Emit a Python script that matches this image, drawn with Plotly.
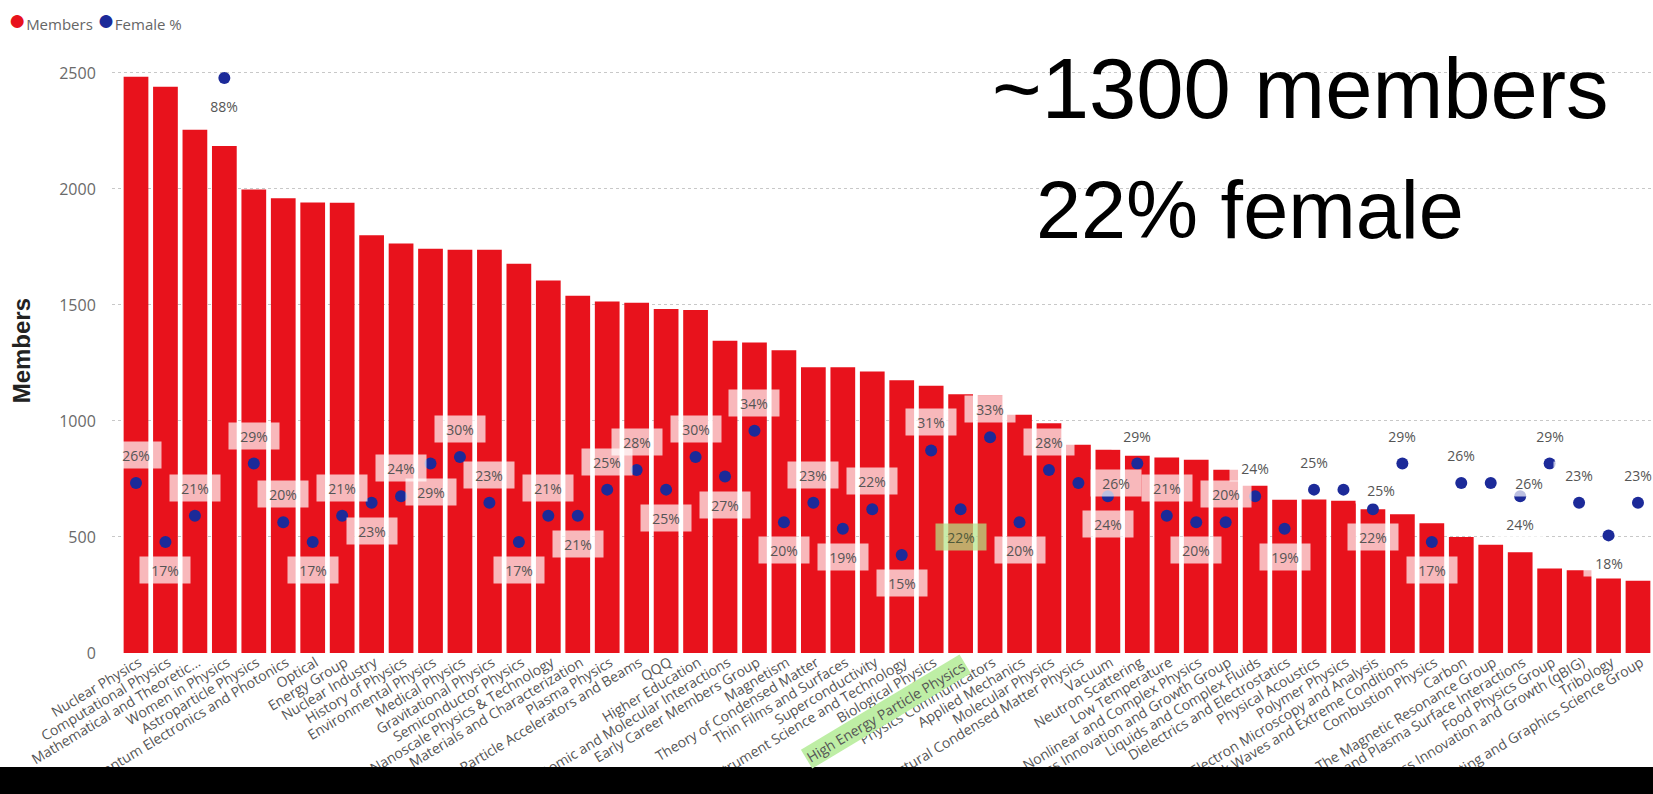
import plotly.graph_objects as go

groups = [
    "Nuclear Physics", "Computational Physics", "Mathematical and Theoretic...", "Women in Physics",
    "Astroparticle Physics", "Quantum Electronics and Photonics", "Optical", "Energy Group",
    "Nuclear Industry", "History of Physics", "Environmental Physics", "Medical Physics",
    "Gravitational Physics", "Semiconductor Physics", "Nanoscale Physics & Technology",
    "Materials and Characterization", "Plasma Physics", "Particle Accelerators and Beams", "QQQ",
    "Higher Education", "Atomic and Molecular Interactions", "Early Career Members Group", "Magnetism",
    "Theory of Condensed Matter", "Thin Films and Surfaces", "Superconductivity",
    "Instrument Science and Technology", "Biological Physics", "High Energy Particle Physics",
    "Physics Communicators", "Applied Mechanics", "Molecular Physics",
    "Structural Condensed Matter Physics", "Vacuum", "Neutron Scattering", "Low Temperature",
    "Nonlinear and Complex Physics", "Business Innovation and Growth Group", "Liquids and Complex Fluids",
    "Dielectrics and Electrostatics", "Physical Acoustics", "Polymer Physics",
    "Electron Microscopy and Analysis", "Shock Waves and Extreme Conditions", "Combustion Physics",
    "Carbon", "The Magnetic Resonance Group", "Ion and Plasma Surface Interactions", "Food Physics Group",
    "Quantum Business Innovation and Growth (qBIG)", "Tribology", "Printing and Graphics Science Group",
]

members = [
    2483, 2440, 2255, 2185, 1998, 1960, 1942, 1940, 1800, 1765,
    1742, 1738, 1738, 1678, 1605, 1540, 1515, 1510, 1483, 1478,
    1346, 1338, 1305, 1232, 1231, 1213, 1176, 1152, 1115, 1110,
    1027, 990, 897, 876, 850, 843, 833, 790, 721, 661,
    662, 656, 619, 598, 559, 500, 467, 434, 364, 357,
    321, 311,
]

female_pct = [
    26, 17, 21, 88, 29, 20, 17, 21, 23, 24,
    29, 30, 23, 17, 21, 21, 25, 28, 25, 30,
    27, 34, 20, 23, 19, 22, 15, 31, 22, 33,
    20, 28, 26, 24, 29, 21, 20, 20, 24, 19,
    25, 25, 22, 29, 17, 26, 26, 24, 29, 23,
    18, 23,
]

# label placement relative to the dot: a = above, b = below, r = right
label_side = [
    "a", "b", "a", "b", "a", "a", "b", "a", "b", "a",
    "b", "a", "a", "b", "a", "b", "a", "a", "b", "a",
    "b", "a", "b", "a", "b", "a", "b", "a", "b", "a",
    "b", "a", "r", "b", "a", "a", "b", "a", "a", "b",
    "a", "r", "b", "a", "b", "a", "r", "b", "a", "a",
    "b", "a",
]

highlight_group = "High Energy Particle Physics"
headline_1 = "~1300 members"
headline_2 = "22% female"

BAR_RED = "#E8121C"
DOT_BLUE = "#1C2A99"
TXT_GRAY = "#555555"
UI_FONT = "Segoe UI, Open Sans, sans-serif"
TICK_ANGLE = -31

Y_MAX = 2560
Y2_MAX = 90.9

fig = go.Figure()
fig.add_trace(go.Bar(
    x=groups, y=members, name="Members", marker=dict(color=BAR_RED, line=dict(width=0)),
    showlegend=False,
))
fig.add_trace(go.Scatter(
    x=groups, y=female_pct, yaxis="y2", mode="markers", name="Female %",
    marker=dict(color=DOT_BLUE, size=12), showlegend=False, cliponaxis=False,
))

ticktext = ["" if g == highlight_group else g for g in groups]

offsets = {"a": (0, 28), "b": (0, -28), "r": (38, 0)}
annotations = []
for g, p, s in zip(groups, female_pct, label_side):
    dx, dy = offsets[s]
    hl = g == highlight_group
    annotations.append(dict(
        x=g, y=p, xref="x", yref="y2", text=f"{p}%", showarrow=False,
        xshift=dx, yshift=dy, width=48, height=24,
        bgcolor="rgba(179,228,137,0.72)" if hl else "rgba(255,255,255,0.70)",
        font=dict(size=14, color="#4f5a3a" if hl else TXT_GRAY, family=UI_FONT),
    ))

# highlighted category label
annotations.append(dict(
    x=highlight_group, y=0, xref="x", yref="paper", text=highlight_group, showarrow=False,
    xanchor="right", yanchor="top", textangle=TICK_ANGLE, yshift=-1, xshift=11,
    bgcolor="rgb(190,238,165)", borderpad=1,
    font=dict(size=14, color=TXT_GRAY, family=UI_FONT),
))

# legend
annotations.append(dict(
    x=-0.0685, y=1.069, xref="paper", yref="paper", xanchor="left", yanchor="middle",
    showarrow=False,
    text=(f'<span style="color:{BAR_RED};font-size:30px">●</span>Members '
          f'<span style="color:{DOT_BLUE};font-size:30px">●</span>Female %'),
    font=dict(size=15, color="#666666", family=UI_FONT),
))

# axis title
annotations.append(dict(
    x=-0.059, y=0.508, xref="paper", yref="paper", xanchor="center", yanchor="middle",
    showarrow=False, textangle=-90,
    text="<b>Members</b>", font=dict(size=24, color="#222222", family="Liberation Sans, Arial"),
))

# headlines
annotations.append(dict(
    x=0.771, y=0.9495, xref="paper", yref="paper", xanchor="center", yanchor="middle",
    showarrow=False, text=headline_1,
    font=dict(size=85, color="black", family="Liberation Sans, Arial"),
))
annotations.append(dict(
    x=0.7385, y=0.746, xref="paper", yref="paper", xanchor="center", yanchor="middle",
    showarrow=False, text=headline_2,
    font=dict(size=81, color="black", family="Liberation Sans, Arial"),
))

fig.update_layout(
    width=1653, height=794,
    margin=dict(l=112, r=0, t=59, b=141, autoexpand=False),
    plot_bgcolor="white", paper_bgcolor="white",
    bargap=0.16,
    showlegend=False,
    annotations=annotations,
    shapes=[dict(
        type="rect", xref="paper", yref="paper", x0=-0.2, x1=1.1, y0=-0.5, y1=-0.1919,
        fillcolor="black", line=dict(width=0), layer="above",
    )],
    xaxis=dict(
        range=[-0.815, 51.51], tickmode="array", tickvals=groups, ticktext=ticktext,
        tickangle=TICK_ANGLE, tickfont=dict(size=14, color=TXT_GRAY, family=UI_FONT),
        ticklabelshift=3, ticklabelstandoff=-2,
        showgrid=False, zeroline=False, showline=False, ticks="", automargin=False,
    ),
    yaxis=dict(
        range=[0, Y_MAX], dtick=500, tick0=0, showgrid=True, gridcolor="#c8c8c8",
        griddash="dot", gridwidth=1, zeroline=False, showline=False,
        ticks="outside", ticklen=12, tickcolor="rgba(0,0,0,0)",
        tickfont=dict(size=16, color="#6a6a6a", family=UI_FONT), automargin=False,
    ),
    yaxis2=dict(
        range=[0, Y2_MAX], overlaying="y", side="right", showgrid=False, zeroline=False,
        showticklabels=False, showline=False, ticks="",
    ),
)

fig.write_html("out.html", config={"displayModeBar": False},
               post_script="document.body.style.margin='0';")
